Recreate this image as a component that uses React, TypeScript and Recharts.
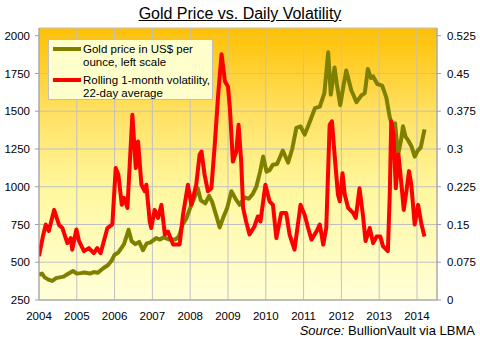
import React from 'react';
import { LineChart, Line, XAxis, YAxis, CartesianGrid } from 'recharts';

// Gold price (US$/oz), left scale
const goldYears = [
  2004.0, 2004.08, 2004.15, 2004.25, 2004.35, 2004.45, 2004.55, 2004.65, 2004.75, 2004.9,
  2005.0, 2005.1, 2005.2, 2005.35, 2005.45, 2005.55, 2005.7, 2005.82, 2005.92, 2006.0,
  2006.1, 2006.25, 2006.37, 2006.45, 2006.55, 2006.65, 2006.75, 2006.85, 2006.95, 2007.1,
  2007.2, 2007.3, 2007.45, 2007.6, 2007.7, 2007.8, 2007.9, 2008.0, 2008.1, 2008.2,
  2008.28, 2008.4, 2008.5, 2008.58, 2008.7, 2008.78, 2008.88, 2008.98, 2009.09, 2009.2,
  2009.31, 2009.44, 2009.55, 2009.65, 2009.75, 2009.85, 2009.93, 2010.02, 2010.1, 2010.19,
  2010.3, 2010.45, 2010.59, 2010.7, 2010.81, 2010.92, 2011.03, 2011.15, 2011.3, 2011.43,
  2011.55, 2011.65, 2011.72, 2011.82, 2011.88, 2011.97, 2012.05, 2012.13, 2012.26, 2012.4,
  2012.53, 2012.62, 2012.7, 2012.78, 2012.84, 2012.95, 2013.08, 2013.19, 2013.28, 2013.35,
  2013.42, 2013.5, 2013.58, 2013.63, 2013.7, 2013.76, 2013.85, 2013.94, 2014.02, 2014.1,
  2014.2,
];
const goldPrices = [
  417, 425, 400, 385, 376, 395, 400, 405, 420, 442,
  425, 428, 432, 425, 435, 430, 460, 480, 510, 550,
  565, 620, 715, 640, 620, 635, 580, 625, 632, 660,
  650, 665, 650, 650, 670, 750, 790, 860, 920, 990,
  910, 890, 940, 900, 800, 730, 800, 860, 970, 920,
  880, 930, 920, 950, 1000, 1100, 1200, 1100, 1110, 1146,
  1150, 1240, 1160, 1250, 1390, 1400, 1345, 1420, 1520, 1530,
  1620, 1890, 1610, 1790, 1680, 1540, 1660, 1770, 1640, 1560,
  1605, 1620, 1780, 1720, 1730, 1680, 1670, 1590, 1460, 1400,
  1420, 1210, 1310, 1400, 1330, 1310, 1270, 1200, 1240, 1260,
  1380,
];

// Rolling 1-month volatility, right scale
const volYears = [
  2004.0, 2004.1, 2004.18, 2004.26, 2004.4, 2004.53, 2004.62, 2004.75, 2004.84, 2004.88,
  2004.99, 2005.06, 2005.19, 2005.32, 2005.45, 2005.54, 2005.63, 2005.81, 2005.94, 2006.03,
  2006.1, 2006.19, 2006.25, 2006.34, 2006.47, 2006.56, 2006.62, 2006.71, 2006.8, 2006.84,
  2006.93, 2006.97, 2007.06, 2007.15, 2007.24, 2007.33, 2007.41, 2007.55, 2007.72, 2007.81,
  2007.94, 2008.03, 2008.16, 2008.25, 2008.3, 2008.38, 2008.47, 2008.56, 2008.65, 2008.74,
  2008.83, 2008.92, 2009.0, 2009.05, 2009.13, 2009.22, 2009.28, 2009.35, 2009.4, 2009.48,
  2009.57, 2009.7, 2009.79, 2009.86, 2009.99, 2010.1, 2010.19, 2010.28, 2010.41, 2010.54,
  2010.63, 2010.76, 2010.92, 2011.03, 2011.12, 2011.21, 2011.34, 2011.43, 2011.52, 2011.6,
  2011.69, 2011.75, 2011.82, 2011.91, 2011.96, 2012.03, 2012.09, 2012.18, 2012.31, 2012.38,
  2012.48, 2012.57, 2012.64, 2012.75, 2012.84, 2012.93, 2013.03, 2013.1, 2013.23, 2013.28,
  2013.32, 2013.38, 2013.44, 2013.51, 2013.59, 2013.65, 2013.72, 2013.79, 2013.85, 2013.94,
  2014.03, 2014.12, 2014.2,
];
const volValues = [
  0.087, 0.125, 0.15, 0.137, 0.179, 0.149, 0.143, 0.113, 0.123, 0.1,
  0.14, 0.117, 0.097, 0.103, 0.093, 0.103, 0.093, 0.143, 0.15, 0.262,
  0.249, 0.189, 0.203, 0.183, 0.368, 0.262, 0.315, 0.229, 0.216, 0.229,
  0.156, 0.143, 0.179, 0.163, 0.189, 0.13, 0.136, 0.11, 0.11, 0.169,
  0.229, 0.189, 0.229, 0.289, 0.295, 0.249, 0.216, 0.222, 0.308, 0.408,
  0.488, 0.434, 0.424, 0.381, 0.275, 0.295, 0.348, 0.275, 0.183, 0.156,
  0.13, 0.146, 0.166, 0.156, 0.229, 0.196, 0.189, 0.123, 0.173, 0.173,
  0.13, 0.1, 0.189, 0.169, 0.143, 0.12, 0.136, 0.15, 0.11, 0.143,
  0.348, 0.355, 0.289, 0.209, 0.196, 0.252, 0.209, 0.183, 0.173, 0.163,
  0.222, 0.169, 0.117, 0.143, 0.113, 0.126, 0.126, 0.107, 0.097, 0.209,
  0.355, 0.328, 0.222, 0.289, 0.229, 0.179, 0.216, 0.256, 0.229, 0.15,
  0.189, 0.15, 0.126,
];

const yearTicks = [2004, 2005, 2006, 2007, 2008, 2009, 2010, 2011, 2012, 2013, 2014];
const priceTicks = [250, 500, 750, 1000, 1250, 1500, 1750, 2000];
const volTicks = [0, 0.075, 0.15, 0.225, 0.3, 0.375, 0.45, 0.525];

const title = 'Gold Price vs. Daily Volatility';
const goldLabel = ['Gold price in US$ per', 'ounce, left scale'];
const volLabel = ['Rolling 1-month volatility,', '22-day average'];

const goldData = goldYears.map((t, i) => ({ t, price: goldPrices[i] }));
const volData = volYears.map((t, i) => ({ t, vol: volValues[i] }));

const FONT = '"Liberation Sans", Arial, sans-serif';
const GOLD = '#808000';
const RED = '#FF0000';
const tickStyle = { fill: '#000', fontSize: 11.5, fontFamily: FONT };

export default function App() {
  return (
    <div style={{ position: 'absolute', left: 0, top: 0, width: 480, height: 340, background: '#fff', fontFamily: FONT }}>
      <LineChart width={480} height={340} margin={{ top: 28, right: 0, bottom: 0, left: 0 }}>
        <defs>
          <linearGradient id="bgGrad" x1="0" y1="0" x2="0" y2="1">
            <stop offset="0%" stopColor="#FFC000" />
            <stop offset="30%" stopColor="#FFE060" />
            <stop offset="60%" stopColor="#FFF8A0" />
            <stop offset="100%" stopColor="#FFFFD8" />
          </linearGradient>
        </defs>
        <CartesianGrid
          xAxisId="x"
          yAxisId="left"
          fill="url(#bgGrad)"
          fillOpacity={1}
          stroke="#C0C0C4"
          strokeWidth={1}
        />
        <XAxis
          xAxisId="x"
          dataKey="t"
          type="number"
          domain={[2004, 2014.53]}
          ticks={yearTicks}
          allowDataOverflow
          height={40}
          tick={tickStyle}
          tickLine={false}
          tickMargin={6}
          axisLine={{ stroke: '#A0A0A0' }}
        />
        <YAxis
          yAxisId="left"
          orientation="left"
          type="number"
          domain={[250, 2051]}
          ticks={priceTicks}
          allowDataOverflow
          width={39}
          tick={tickStyle}
          tickSize={4}
          tickMargin={5}
          tickLine={{ stroke: '#A0A0A0' }}
          axisLine={{ stroke: '#A0A0A0' }}
        />
        <YAxis
          yAxisId="right"
          orientation="right"
          type="number"
          domain={[0, 0.5403]}
          ticks={volTicks}
          allowDataOverflow
          width={43}
          tick={tickStyle}
          tickSize={4}
          tickMargin={6}
          tickLine={{ stroke: '#A0A0A0' }}
          axisLine={{ stroke: '#A0A0A0' }}
        />
        <Line
          xAxisId="x"
          yAxisId="left"
          data={goldData}
          dataKey="price"
          stroke={GOLD}
          strokeWidth={4}
          dot={false}
          type="linear"
          strokeLinejoin="round"
          isAnimationActive={false}
        />
        <Line
          xAxisId="x"
          yAxisId="right"
          data={volData}
          dataKey="vol"
          stroke={RED}
          strokeWidth={4}
          dot={false}
          type="linear"
          strokeLinejoin="round"
          isAnimationActive={false}
        />
      </LineChart>

      <div
        style={{
          position: 'absolute', left: 0, top: 4, width: 480, textAlign: 'center',
          fontSize: 16, lineHeight: '20px', textDecoration: 'underline', color: '#000', whiteSpace: 'pre',
        }}
      >
        {title}
      </div>

      <div
        style={{
          position: 'absolute', left: 48, top: 39, width: 163, height: 59,
          background: '#FFFFCC', border: '1px solid #BFBFBF', fontSize: 11.5, color: '#000',
        }}
      >
        <div style={{ position: 'absolute', left: 4, top: 7, width: 28, height: 4, background: GOLD }} />
        <div style={{ position: 'absolute', left: 34, top: 3, lineHeight: '12.5px', whiteSpace: 'nowrap' }}>
          <div>{goldLabel[0]}</div>
          <div>{goldLabel[1]}</div>
        </div>
        <div style={{ position: 'absolute', left: 4, top: 38, width: 28, height: 4, background: RED }} />
        <div style={{ position: 'absolute', left: 34, top: 34, lineHeight: '12.5px', whiteSpace: 'nowrap' }}>
          <div>{volLabel[0]}</div>
          <div>{volLabel[1]}</div>
        </div>
      </div>

      <div
        style={{
          position: 'absolute', right: 5, top: 323, fontSize: 13, lineHeight: '15px', color: '#000', whiteSpace: 'pre',
        }}
      >
        <i>Source:</i> BullionVault via LBMA
      </div>
    </div>
  );
}
